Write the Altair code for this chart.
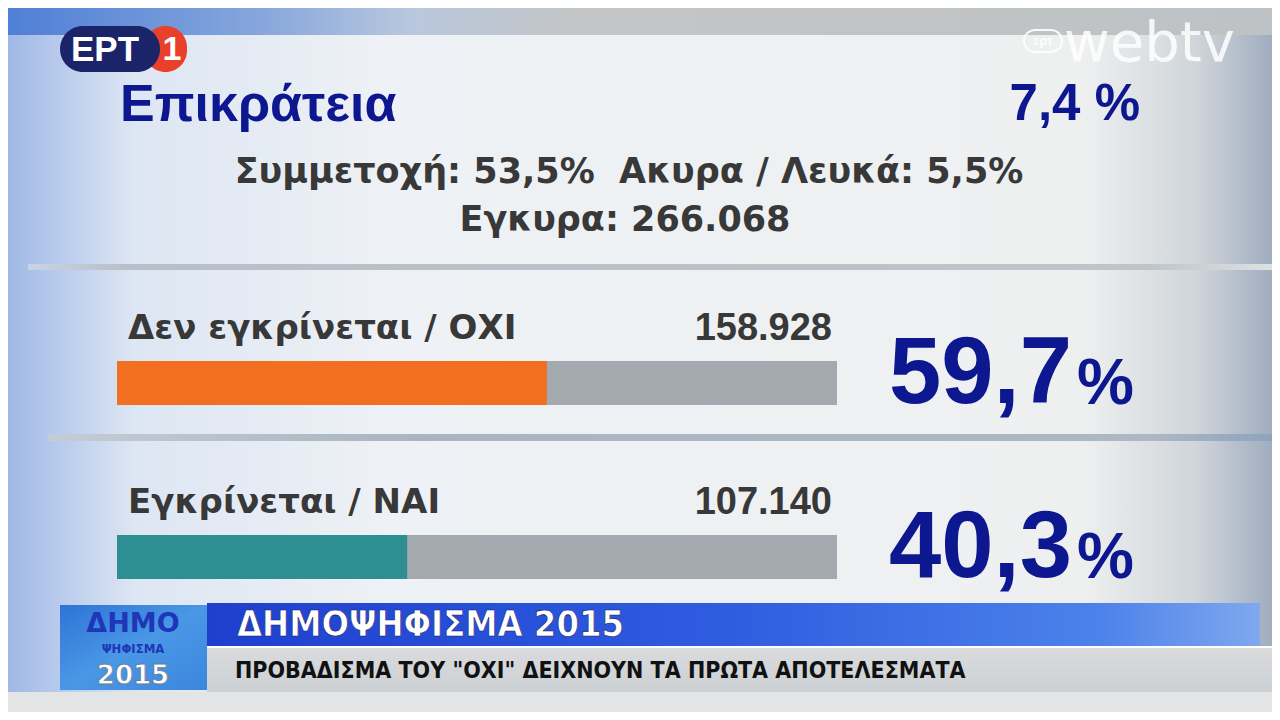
import altair as alt
import pandas as pd

# ---------------- data ----------------
options = ["Δεν εγκρίνεται / ΟΧΙ", "Εγκρίνεται / ΝΑΙ"]
votes = [158928, 107140]
pct = [59.7, 40.3]
bar_colors = ["#f26f22", "#2e8f92"]

region = "Επικράτεια"
counted = "7,4 %"
turnout_line = "Συμμετοχή: 53,5%\u00a0\u00a0Ακυρα / Λευκά: 5,5%"
valid_line = "Εγκυρα: 266.068"
ticker_title = "ΔΗΜΟΨΗΦΙΣΜΑ 2015"
ticker_text = "ΠΡΟΒΑΔΙΣΜΑ ΤΟΥ \"ΟΧΙ\" ΔΕΙΧΝΟΥΝ ΤΑ ΠΡΩΤΑ ΑΠΟΤΕΛΕΣΜΑΤΑ"

df = pd.DataFrame({
    "option": options,
    "votes": votes,
    "pct": pct,
    "total": [100.0] * len(options),
})
df["votes_label"] = [f"{v:,}".replace(",", ".") for v in votes]
df["pct_label"] = [f"{p:.1f}".replace(".", ",") for p in pct]

W, H = 1264, 704
FONT = "Liberation Sans"
WIDE = "DejaVu Sans"
NAVY = "#0c1790"
GREY_TXT = "#383838"

one = pd.DataFrame({"k": [0]})


def grad(stops, x1=0, x2=1, y1=0, y2=0):
    return alt.Gradient(
        gradient="linear",
        stops=[alt.GradientStop(color=c, offset=o) for o, c in stops],
        x1=x1, x2=x2, y1=y1, y2=y2,
    )


def rect(x0, x1, y0, y1, fill, **kw):
    return alt.Chart(one).mark_rect(color=fill, **kw).encode(
        x=alt.value(x0), x2=alt.value(x1), y=alt.value(y0), y2=alt.value(y1)
    )


def label(text, x, y, font=FONT, **kw):
    return alt.Chart(one).mark_text(text=text, font=font, **kw).encode(
        x=alt.value(x), y=alt.value(y)
    )


# ---------------- background ----------------
bg = rect(0, W, 0, H, grad([(0, "#9fb8e6"), (0.1, "#dde6f3"), (0.3, "#eef1f5"),
                             (0.85, "#eef0f0"), (0.94, "#d0d5da"), (1, "#9fadbf")]))
top_strip = rect(0, W, 0, 27, grad([(0, "#4f7fd6"), (0.2, "#86a6dc"), (0.32, "#b9c8de"),
                                     (0.45, "#c3c5c6"), (1, "#bfc2c4")]))
sep1 = rect(20, W, 256, 262, grad([(0, "#c9d3e6"), (0.08, "#b9bfc8"), (0.9, "#bfc4c9"), (1, "#dde1e4")]))
sep2 = rect(40, W, 426, 433, grad([(0, "#c4ccd6"), (0.3, "#aab5c1"), (0.9, "#aeb8c3"), (1, "#8ea3bd")]))

# ERT1 logo
logo_red = rect(136, 179, 18, 64, "#e8402b", cornerRadius=23)
logo_navy = rect(52, 152, 18, 64, "#1b2468", cornerRadius=23)
logo_ert = label("ΕΡΤ", 97, 42, fontSize=35, fontWeight="bold", color="white")
logo_one = label("1", 164, 42, fontSize=34, fontWeight="bold", color="white")

# webtv logo
web_box = rect(1016, 1054, 22, 44, "transparent", cornerRadius=11, stroke="white",
               strokeWidth=2, opacity=0.9)
web_ert = label("ερτ", 1035, 33, fontSize=13, fontWeight="bold", color="white", opacity=0.9)
web_txt = label("webtv", 1056, 36, fontSize=56, color="white", align="left",
                opacity=0.85, font="DejaVu Sans")

# header texts
t_region = label(region, 112, 97, fontSize=52, fontWeight="bold", color=NAVY, align="left")
t_counted = label(counted, 1132, 97, fontSize=51, fontWeight="bold", color=NAVY, align="right")
t_turnout = label(turnout_line, 621, 164, font=WIDE, fontSize=35, fontWeight="bold", color=GREY_TXT)
t_valid = label(valid_line, 617, 212, font=WIDE, fontSize=35, fontWeight="bold", color=GREY_TXT)

# ---------------- bars ----------------
xscale = alt.Scale(domain=[0, 100], range=[109, 829])
yscale = alt.Scale(domain=options, range=[288, 636], paddingInner=0, paddingOuter=0)
y_enc = alt.Y("option:N", scale=yscale, axis=None)

base = alt.Chart(df)
track = base.mark_bar(size=44, color="#a4a9af").encode(
    x=alt.X("total:Q", scale=xscale, axis=None), y=y_enc
)
bars = base.mark_bar(size=44).encode(
    x=alt.X("pct:Q", scale=xscale, axis=None),
    y=y_enc,
    color=alt.Color("option:N", scale=alt.Scale(domain=options, range=bar_colors), legend=None),
)
names = base.mark_text(font=WIDE, fontSize=34, fontWeight="bold", color=GREY_TXT,
                       align="left", dy=-54).encode(x=alt.value(120), y=y_enc, text="option:N")
counts = base.mark_text(font=FONT, fontSize=38, fontWeight="bold", color=GREY_TXT,
                        align="right", dy=-54).encode(x=alt.value(824), y=y_enc, text="votes_label:N")
big = base.mark_text(font=FONT, fontSize=94, fontWeight="bold", color=NAVY,
                     align="right", dy=-8).encode(x=alt.value(1064), y=y_enc, text="pct_label:N")
pctsign = base.mark_text(font=FONT, fontSize=64, fontWeight="bold", color=NAVY,
                         align="left", dy=2, text="%").encode(x=alt.value(1069), y=y_enc)

# ---------------- ticker ----------------
tk_logo = rect(52, 199, 597, 682, grad([(0, "#2d74d6"), (0.5, "#4a97e6"), (1, "#3b86dc")], x1=0, x2=1, y1=0, y2=1))
tk_top = rect(199, 1252, 595, 638, grad([(0, "#1f3fcf"), (0.5, "#2f5de0"), (0.85, "#4d82ea"), (1, "#7fa8ee")]))
tk_line = rect(199, 1264, 638, 640, "#ffffff")
tk_bot = rect(199, 1264, 640, 684, grad([(0, "#d9dbdd"), (1, "#cdd0d3")], x1=0, x2=0, y1=0, y2=1))
below = rect(0, W, 684, H, "#e2e4e6")
tk_d1 = label("ΔΗΜΟ", 125, 616, fontSize=27, fontWeight="bold", color="#1f36b8", font="DejaVu Sans")
tk_d2 = label("ΨΗΦΙΣΜΑ", 125, 641, fontSize=13, fontWeight="bold", color="#1f36b8",
              font="DejaVu Sans Condensed")
tk_d3 = label("2015", 125, 668, fontSize=26, fontWeight="bold", color="white", font="DejaVu Sans",
              stroke="#6a7a90", strokeWidth=0.8)
tk_title = label(ticker_title, 229, 617, fontSize=36, fontWeight="bold",
                 color="white", align="left", font="DejaVu Sans Condensed",
                 stroke="#13206a", strokeWidth=0.6)
tk_text = label(ticker_text, 227, 663, fontSize=23, fontWeight="bold", color="#111111",
                align="left", font="DejaVu Sans Condensed")

chart = alt.layer(
    bg, top_strip, sep1, sep2,
    logo_red, logo_navy, logo_ert, logo_one,
    web_box, web_ert, web_txt,
    t_region, t_counted, t_turnout, t_valid,
    track, bars, names, counts, big, pctsign,
    below, tk_logo, tk_top, tk_line, tk_bot, tk_d1, tk_d2, tk_d3, tk_title, tk_text,
).properties(
    width=W, height=H, padding=0, autosize=alt.AutoSizeParams(type="none")
).configure_view(stroke=None)

chart.save("out.html", embed_options={"renderer": "svg", "actions": False})
